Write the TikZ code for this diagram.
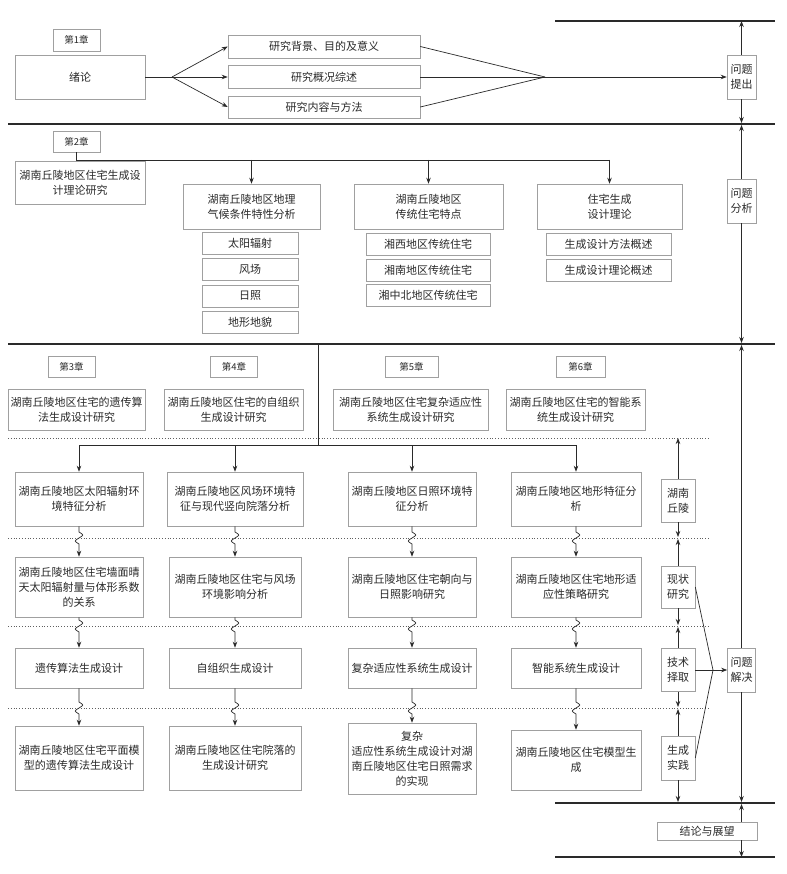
\documentclass[tikz,border=0pt]{standalone}
\usepackage{fontspec}
\setmainfont{Noto Sans CJK SC}
\usetikzlibrary{arrows.meta,calc}
\definecolor{ink}{HTML}{2A2A2A}
\definecolor{edge}{HTML}{A0A0A0}
\newcommand{\wavyconn}[3]{\draw[arr] (#1.south) -- ($(#1.south |- #3)+(0,-6)$) .. controls +(5,3) and +(5,-3) .. (#1.south |- #3) .. controls +(-5,3) and +(-5,-3) .. ($(#1.south |- #3)+(0,6)$) -- (#2.north);}
\begin{document}
\begin{tikzpicture}[x=1pt,y=-1pt,
  box/.style={draw=edge, line width=0.6pt, fill=white, text=ink, align=center, inner sep=0pt, font=\fontsize{11}{15}\selectfont},
  chap/.style={box, font=\fontsize{9.5}{12}\selectfont},
  sz/.style 2 args={minimum width=#1pt, minimum height=#2pt},
  sep/.style={draw=ink, line width=1.1pt},
  dots/.style={draw=ink!75, dotted, line width=0.8pt},
  conn/.style={draw=ink, line width=0.7pt},
  arr/.style={conn, -{Stealth[length=6pt,width=4.5pt]}},
]
\fill[white] (0,0) rectangle (786,874);
\useasboundingbox (0,0) rectangle (786,874);

% separator lines
\coordinate (L1a) at (555,21);  \coordinate (L1b) at (775,21);
\coordinate (L2a) at (8,124);   \coordinate (L2b) at (775,124);
\coordinate (L3a) at (8,344);   \coordinate (L3b) at (775,344);
\coordinate (L4a) at (555,803); \coordinate (L4b) at (775,803);
\coordinate (L5a) at (555,857); \coordinate (L5b) at (775,857);
\draw[sep] (L1a) -- (L1b);
\draw[sep] (L2a) -- (L2b);
\draw[sep] (L3a) -- (L3b);
\draw[sep] (L4a) -- (L4b);
\draw[sep] (L5a) -- (L5b);

\coordinate (D1a) at (8,438); \coordinate (D1b) at (710,438);
\coordinate (D2a) at (8,538); \coordinate (D2b) at (710,538);
\coordinate (D3a) at (8,626); \coordinate (D3b) at (710,626);
\coordinate (D4a) at (8,708); \coordinate (D4b) at (710,708);
\draw[dots] (D1a) -- (D1b);
\draw[dots] (D2a) -- (D2b);
\draw[dots] (D3a) -- (D3b);
\draw[dots] (D4a) -- (D4b);

% ---------- chapter 1 ----------
\node[chap, sz={47}{22}] (ch1) at (76.5,40) {第1章};
\node[box, sz={130}{44}] (xulun) at (80,77) {绪论};
\node[box, sz={192}{23}] (b11) at (324,46.5) {研究背景、目的及意义};
\node[box, sz={192}{23}] (b12) at (324,77) {研究概况综述};
\node[box, sz={192}{22}] (b13) at (324,107) {研究内容与方法};
\node[box, sz={29}{44}] (wtcc) at (741.5,77) {问题\\提出};
\coordinate (s1) at (172,77);
\coordinate (c1) at (545,77);
\draw[conn] (xulun.east) -- (s1);
\draw[arr] (s1) -- (b11.west);
\draw[arr] (s1) -- (b12.west);
\draw[arr] (s1) -- (b13.west);
\draw[conn] (b11.east) -- (c1);
\draw[conn] (b12.east) -- (c1);
\draw[conn] (b13.east) -- (c1);
\draw[arr] (c1) -- (wtcc.west);
\draw[arr] (wtcc.north) -- (wtcc.north |- L1a);
\draw[arr] (wtcc.south) -- ($(wtcc.south |- L2a)+(0,-1)$);

% ---------- chapter 2 ----------
\node[chap, sz={47}{21}] (ch2) at (76.5,141.5) {第2章};
\node[box, sz={130}{43}] (main2) at (80,182.5) {湖南丘陵地区住宅生成设\\计理论研究};
\node[box, sz={137}{45}] (g1) at (251.5,206.5) {湖南丘陵地区地理\\气候条件特性分析};
\node[box, sz={149}{45}] (g2) at (428.5,206.5) {湖南丘陵地区\\传统住宅特点};
\node[box, sz={145}{45}] (g3) at (609.5,206.5) {住宅生成\\设计理论};
\node[box, sz={96}{22}] (s1a) at (250,243) {太阳辐射};
\node[box, sz={96}{22}] (s1b) at (250,269.5) {风场};
\node[box, sz={96}{22}] (s1c) at (250,296) {日照};
\node[box, sz={96}{22}] (s1d) at (250,322.5) {地形地貌};
\node[box, sz={124}{22}] (s2a) at (428,244.5) {湘西地区传统住宅};
\node[box, sz={124}{22}] (s2b) at (428,270.5) {湘南地区传统住宅};
\node[box, sz={124}{22}] (s2c) at (428,295.5) {湘中北地区传统住宅};
\node[box, sz={125}{22}] (s3a) at (608.5,244.5) {生成设计方法概述};
\node[box, sz={125}{22}] (s3b) at (608.5,270.5) {生成设计理论概述};
\node[box, sz={29}{44}] (wtfx) at (741.5,201) {问题\\分析};
\coordinate (h2L) at (76.5,160);
\coordinate (h2R) at (609.5,160);
\draw[conn] (ch2.south) -- (h2L) -- (h2R);
\draw[arr] (g1.north |- h2L) -- (g1.north);
\draw[arr] (g2.north |- h2L) -- (g2.north);
\draw[arr] (g3.north |- h2L) -- (g3.north);
\draw[arr] (wtfx.north) -- ($(wtfx.north |- L2a)+(0,1)$);
\draw[arr] (wtfx.south) -- ($(wtfx.south |- L3a)+(0,-1)$);

% ---------- chapters 3-6 ----------
\node[chap, sz={47}{21}] (ch3) at (71.5,366.5) {第3章};
\node[chap, sz={47}{21}] (ch4) at (234,366.5) {第4章};
\node[chap, sz={53}{21}] (ch5) at (411.5,366.5) {第5章};
\node[chap, sz={49}{21}] (ch6) at (580.5,366.5) {第6章};
\node[box, sz={137}{41}] (t3) at (76.5,409.5) {湖南丘陵地区住宅的遗传算\\法生成设计研究};
\node[box, sz={139}{41}] (t4) at (233.5,409.5) {湖南丘陵地区住宅的自组织\\生成设计研究};
\node[box, sz={155}{41}] (t5) at (410.5,409.5) {湖南丘陵地区住宅复杂适应性\\系统生成设计研究};
\node[box, sz={139}{41}] (t6) at (575.5,409.5) {湖南丘陵地区住宅的智能系\\统生成设计研究};

% row 1
\node[box, sz={128}{54}] (r1a) at (79,499) {湖南丘陵地区太阳辐射环\\境特征分析};
\node[box, sz={136}{54}] (r1b) at (235,499) {湖南丘陵地区风场环境特\\征与现代竖向院落分析};
\node[box, sz={128}{54}] (r1c) at (412,499) {湖南丘陵地区日照环境特\\征分析};
\node[box, sz={130}{54}] (r1d) at (576,499) {湖南丘陵地区地形特征分\\析};
% row 2
\node[box, sz={128}{60}] (r2a) at (79,587) {湖南丘陵地区住宅墙面晴\\天太阳辐射量与体形系数\\的关系};
\node[box, sz={132}{60}] (r2b) at (235,587) {湖南丘陵地区住宅与风场\\环境影响分析};
\node[box, sz={128}{60}] (r2c) at (412,587) {湖南丘陵地区住宅朝向与\\日照影响研究};
\node[box, sz={130}{60}] (r2d) at (576,587) {湖南丘陵地区住宅地形适\\应性策略研究};
% row 3
\node[box, sz={128}{40}] (r3a) at (79,668) {遗传算法生成设计};
\node[box, sz={132}{40}] (r3b) at (235,668) {自组织生成设计};
\node[box, sz={128}{40}] (r3c) at (412,668) {复杂适应性系统生成设计};
\node[box, sz={130}{40}] (r3d) at (576,668) {智能系统生成设计};
% row 4
\node[box, sz={128}{64}] (r4a) at (79,758) {湖南丘陵地区住宅平面模\\型的遗传算法生成设计};
\node[box, sz={132}{64}] (r4b) at (235,758) {湖南丘陵地区住宅院落的\\生成设计研究};
\node[box, sz={128}{71}] (r4c) at (412,758.5) {复杂\\适应性系统生成设计对湖\\南丘陵地区住宅日照需求\\的实现};
\node[box, sz={130}{60}] (r4d) at (576,760) {湖南丘陵地区住宅模型生\\成};

\coordinate (v3t) at (318,344);
\coordinate (v3b) at (318,445);
\draw[conn] (v3t) -- (v3b);
\draw[conn] (r1a.north |- v3b) -- (r1d.north |- v3b);
\draw[arr] (r1a.north |- v3b) -- (r1a.north);
\draw[arr] (r1b.north |- v3b) -- (r1b.north);
\draw[arr] (r1c.north |- v3b) -- (r1c.north);
\draw[arr] (r1d.north |- v3b) -- (r1d.north);

\wavyconn{r1a}{r2a}{D2a}
\wavyconn{r1b}{r2b}{D2a}
\wavyconn{r1c}{r2c}{D2a}
\wavyconn{r1d}{r2d}{D2a}
\wavyconn{r2a}{r3a}{D3a}
\wavyconn{r2b}{r3b}{D3a}
\wavyconn{r2c}{r3c}{D3a}
\wavyconn{r2d}{r3d}{D3a}
\wavyconn{r3a}{r4a}{D4a}
\wavyconn{r3b}{r4b}{D4a}
\wavyconn{r3c}{r4c}{D4a}
\wavyconn{r3d}{r4d}{D4a}

% ---------- right column ----------
\node[box, sz={34}{43}] (hnql) at (678,500.5) {湖南\\丘陵};
\node[box, sz={34}{42}] (xzyj) at (678,587) {现状\\研究};
\node[box, sz={34}{43}] (jszq) at (678,670) {技术\\择取};
\node[box, sz={34}{44}] (scsj) at (678,758) {生成\\实践};
\node[box, sz={28}{44}] (wtjj) at (741.5,670) {问题\\解决};
\node[box, sz={100}{18}] (jlzw) at (707,831) {结论与展望};

\draw[arr] (hnql.north) -- (hnql.north |- D1a);
\draw[arr] (hnql.south) -- ($(hnql.south |- D2a)+(0,-1)$);
\draw[arr] (xzyj.north) -- ($(xzyj.north |- D2a)+(0,1)$);
\draw[arr] (xzyj.south) -- ($(xzyj.south |- D3a)+(0,-1)$);
\draw[arr] (jszq.north) -- ($(jszq.north |- D3a)+(0,1)$);
\draw[arr] (jszq.south) -- ($(jszq.south |- D4a)+(0,-1)$);
\draw[arr] (scsj.north) -- ($(scsj.north |- D4a)+(0,1)$);
\draw[arr] (scsj.south) -- ($(scsj.south |- L4a)+(0,-1)$);

\coordinate (c3) at (713,670);
\draw[conn] (xzyj.east) -- (c3);
\draw[conn] (scsj.east) -- (c3);
\draw[arr] (jszq.east) -- (wtjj.west);

\draw[arr] (wtjj.north) -- ($(wtjj.north |- L3a)+(0,1)$);
\draw[arr] (wtjj.south) -- ($(wtjj.south |- L4a)+(0,-1)$);
\draw[arr] (jlzw.north -| wtjj) -- ($(L4a -| wtjj)+(0,1)$);
\draw[arr] (jlzw.south -| wtjj) -- (L5a -| wtjj);
\end{tikzpicture}
\end{document}
